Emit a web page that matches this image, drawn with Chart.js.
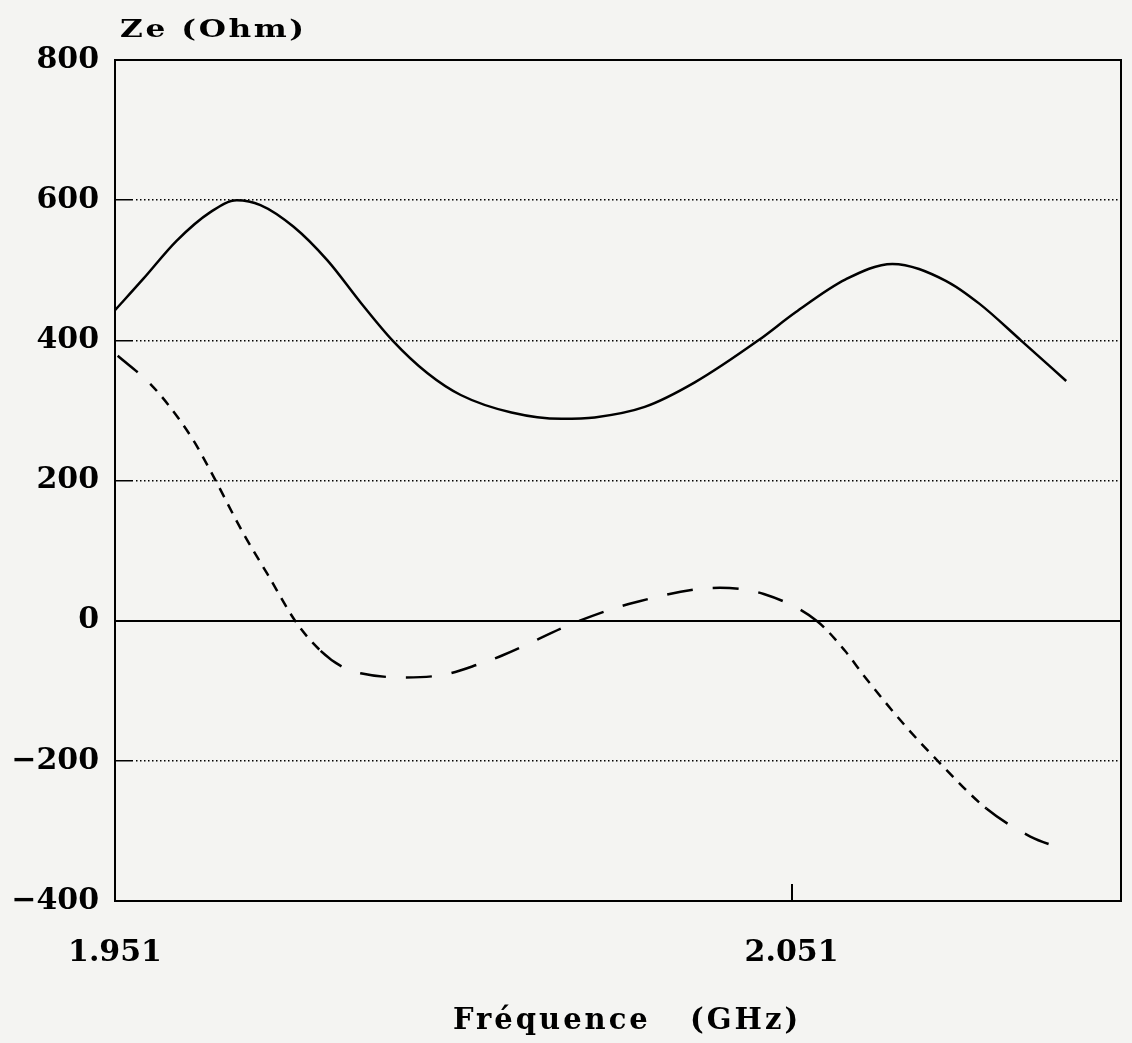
<!DOCTYPE html>
<html>
<head>
<meta charset="utf-8">
<script src="https://cdn.jsdelivr.net/npm/chart.js@4.4.1/dist/chart.umd.min.js"></script>
<style>
html, body { margin: 0; padding: 0; background: #f4f4f2; }
</style>
</head>
<body>
<canvas id="ze" width="1132" height="1043"></canvas>
<script>
// Partie réelle (trait plein)
var freqR = [1.951, 1.9552, 1.9601, 1.9651, 1.9690, 1.9725, 1.9774, 1.9824, 1.9873, 1.9920, 1.9972, 2.0021, 2.0096,
             2.0170, 2.0219, 2.0293, 2.0367, 2.0461, 2.0516, 2.0590, 2.0659, 2.0738, 2.0788, 2.0849, 2.0916];
var resist = [443, 488, 542, 583, 600, 593, 562, 514, 454, 400, 353, 322, 297,
              288, 290, 305, 340, 400, 440, 487, 509, 485, 452, 400, 342];
// Partie imaginaire (tirets)
var freqX = [1.9514, 1.9562, 1.9592, 1.9626, 1.9651, 1.9700, 1.9735, 1.9779, 1.9814, 1.9848, 1.9873, 1.9933, 1.9997,
             2.0048, 2.0084, 2.0197, 2.0278, 2.0404, 2.0469, 2.0547, 2.0589, 2.0619, 2.0678, 2.0726, 2.0798, 2.0863, 2.0911];
var react = [378, 338, 304, 257, 214, 124, 67, -4, -43, -67, -75, -81, -77,
             -62, -49, 0, 26, 47, 38, 0, -43, -81, -150, -200, -268, -308, -326];
var xTicks = [1.951, 2.051];
var yLabel = 'Ze (Ohm)';
var xLabel = 'Fréquence   (GHz)';

var serif = 'DejaVu Serif';

// dotted grid with a short solid tick at the left end
var gridDash = [17, 3];
for (var i = 0; i < 260; i++) gridDash.push(1.5, 2.5);

var frame = {
    id: 'frame',
    afterDraw: function (chart) {
        var ctx = chart.ctx, a = chart.chartArea;
        ctx.save();
        ctx.strokeStyle = '#000';
        ctx.lineWidth = 2;
        ctx.strokeRect(a.left, a.top, a.right - a.left, a.bottom - a.top);

        ctx.fillStyle = '#000';
        ctx.textBaseline = 'alphabetic';
        ctx.textAlign = 'left';
        // y title, wide letters
        ctx.save();
        ctx.font = 'bold 24px "' + serif + '"';
        ctx.letterSpacing = '2px';
        ctx.translate(120, 37);
        ctx.scale(1.3, 1);
        ctx.fillText(yLabel, 0, 0);
        ctx.restore();
        // x title
        ctx.font = 'bold 29px "' + serif + '"';
        ctx.letterSpacing = '3px';
        ctx.fillText(xLabel, 453, 1029);
        ctx.restore();
    }
};

var chart = new Chart(document.getElementById('ze'), {
    type: 'line',
    data: {
        datasets: [{
            label: 'Re',
            data: freqR.map(function (f, i) { return { x: f, y: resist[i] }; }),
            borderColor: '#000',
            borderWidth: 2.5,
            pointRadius: 0,
            cubicInterpolationMode: 'monotone',
            fill: false
        }, {
            label: 'Im',
            data: freqX.map(function (f, i) { return { x: f, y: react[i] }; }),
            borderColor: '#000',
            borderWidth: 2.5,
            borderDash: [10, 8],
            pointRadius: 0,
            cubicInterpolationMode: 'monotone',
            fill: false,
            segment: {
                borderDash: function (c) {
                    var dx = Math.abs(c.p1.x - c.p0.x), dy = Math.abs(c.p1.y - c.p0.y);
                    return dy > dx * 0.9 ? [10, 8] : [26, 20];
                }
            }
        }]
    },
    options: {
        responsive: false,
        animation: false,
        layout: { padding: { top: 60, right: 11, left: 0, bottom: 0 } },
        plugins: { legend: { display: false }, tooltip: { enabled: false } },
        scales: {
            x: {
                type: 'linear',
                min: 1.951,
                max: 2.0997,
                afterBuildTicks: function (s) { s.ticks = xTicks.map(function (v) { return { value: v }; }); },
                afterFit: function (s) { s.height = 142; },
                ticks: {
                    callback: function (v) { return v.toFixed(3); },
                    font: { family: serif, size: 30, weight: 'bold' },
                    color: '#000',
                    padding: 34,
                    maxRotation: 0,
                    autoSkip: false
                },
                grid: {
                    drawTicks: false,
                    lineWidth: 2,
                    color: function (c) { return c.tick && c.tick.value === 2.051 ? '#000' : 'rgba(0,0,0,0)'; }
                },
                border: {
                    color: '#000',
                    width: 2,
                    dash: function (c) { return c.tick && c.tick.value === 2.051 ? [0, 824, 18, 2000] : []; }
                }
            },
            y: {
                min: -400,
                max: 800,
                afterFit: function (s) { s.width = 115; },
                ticks: {
                    stepSize: 200,
                    callback: function (v) { return v < 0 ? '\u2212' + Math.abs(v) : String(v); },
                    font: { family: serif, size: 30, weight: 'bold' },
                    color: '#000',
                    padding: 16
                },
                grid: {
                    drawTicks: false,
                    lineWidth: function (c) { return c.tick && c.tick.value === 0 ? 2 : 1.5; },
                    color: function (c) {
                        if (!c.tick || c.tick.value === 800 || c.tick.value === -400) return 'rgba(0,0,0,0)';
                        return '#000';
                    }
                },
                border: {
                    color: '#000',
                    width: 2,
                    dash: function (c) { return !c.tick || c.tick.value === 0 ? [] : gridDash; }
                }
            }
        }
    },
    plugins: [frame]
});
</script>
</body>
</html>
